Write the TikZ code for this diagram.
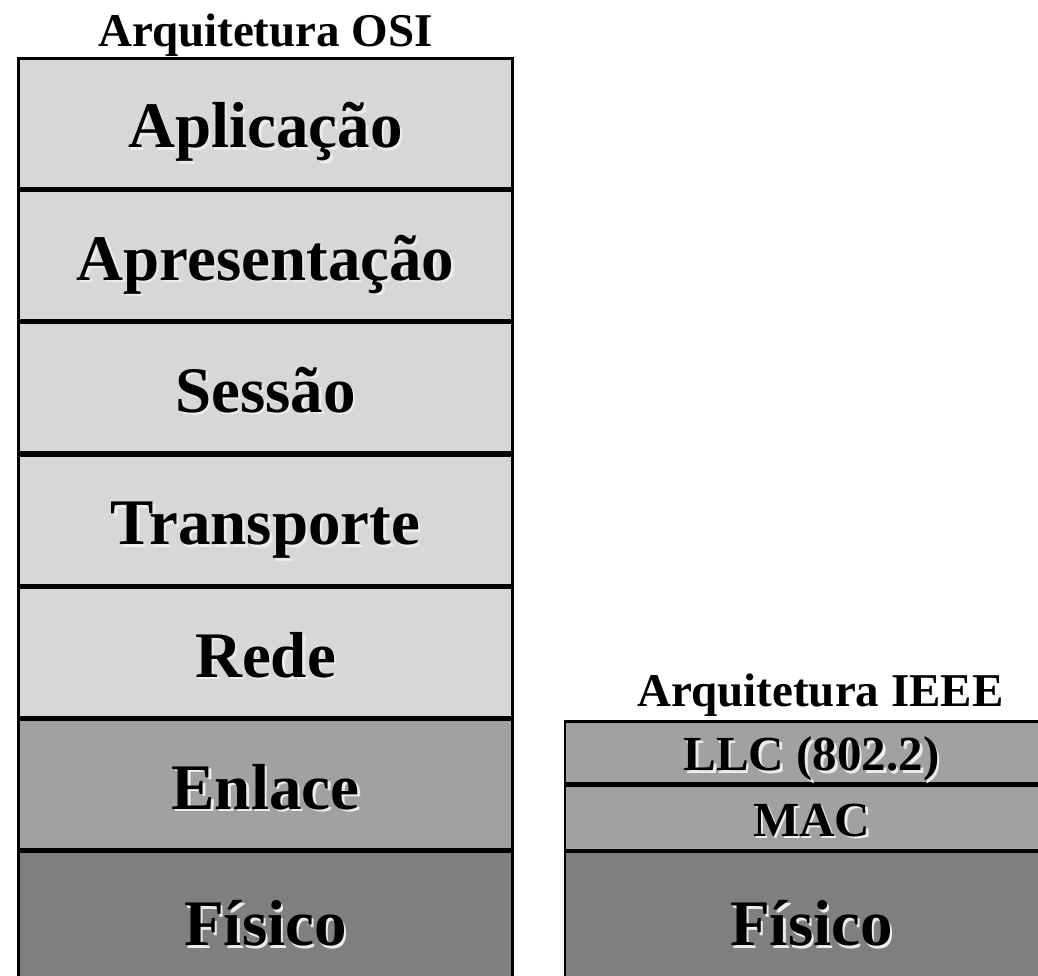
\documentclass[tikz,border=0pt]{standalone}
\usepackage{fontspec}
\setmainfont{Liberation Serif}
\usetikzlibrary{positioning}

\definecolor{layerlight}{RGB}{215,215,215}
\definecolor{layermid}{RGB}{161,161,161}
\definecolor{layerdark}{RGB}{127,127,127}

% text with a light shadow down-right
\newcommand{\shadowtxt}[1]{\rlap{\kern2.5pt\raisebox{-2.5pt}{\textcolor{white!85!gray}{#1}}}#1}

\tikzset{
  layer/.style={draw, line width=2.8pt, inner sep=0pt, text height=49pt, text depth=0pt,
    font=\bfseries\fontsize{65}{70}\selectfont},
  osi/.style={layer, minimum width=494pt},
  ieee/.style={layer, minimum width=493pt},
  thin/.style={text height=37pt, font=\bfseries\fontsize{49}{54}\selectfont},
  title/.style={inner sep=0pt, text height=36pt, text depth=0pt,
    font=\bfseries\fontsize{47}{52}\selectfont}
}

\begin{document}
\begin{tikzpicture}[x=1pt, y=-1pt]
  \useasboundingbox (0,0) rectangle (1038,976);

  % OSI stack
  \node [osi, fill=layerlight, minimum height=130pt] (apl) at (265.5,123.2) {\shadowtxt{Aplicação}};
  \node [osi, fill=layerlight, minimum height=130pt] (apr) at (265.5,255.5) {\shadowtxt{Apresentação}};
  \node [osi, fill=layerlight, minimum height=130pt] (ses) at (265.5,387.8) {\shadowtxt{Sessão}};
  \node [osi, fill=layerlight, minimum height=130pt] (tra) at (265.5,520.2) {\shadowtxt{Transporte}};
  \node [osi, fill=layerlight, minimum height=130pt] (red) at (265.5,652.5) {\shadowtxt{Rede}};
  \node [osi, fill=layermid, minimum height=130pt] (enl) at (265.5,784.8) {\shadowtxt{Enlace}};
  \node [osi, fill=layerdark, minimum height=138pt] (fis) at (265.5,921) {\shadowtxt{Físico}};

  % IEEE stack
  \node [ieee, thin, fill=layermid, minimum height=62.3pt] (llc) at (811.5,752.3) {\shadowtxt{LLC (802.2)}};
  \node [ieee, thin, fill=layermid, minimum height=64.3pt] (mac) at (811.5,817.8) {\shadowtxt{MAC}};
  \node [ieee, fill=layerdark, minimum height=138pt] (fisb) at (811.5,921) {\shadowtxt{Físico}};

  \node [title, above=10pt of apl] (tosi) {Arquitetura OSI};
  \node [title, above=13pt of llc, xshift=9pt] (tieee) {Arquitetura IEEE};
\end{tikzpicture}
\end{document}
